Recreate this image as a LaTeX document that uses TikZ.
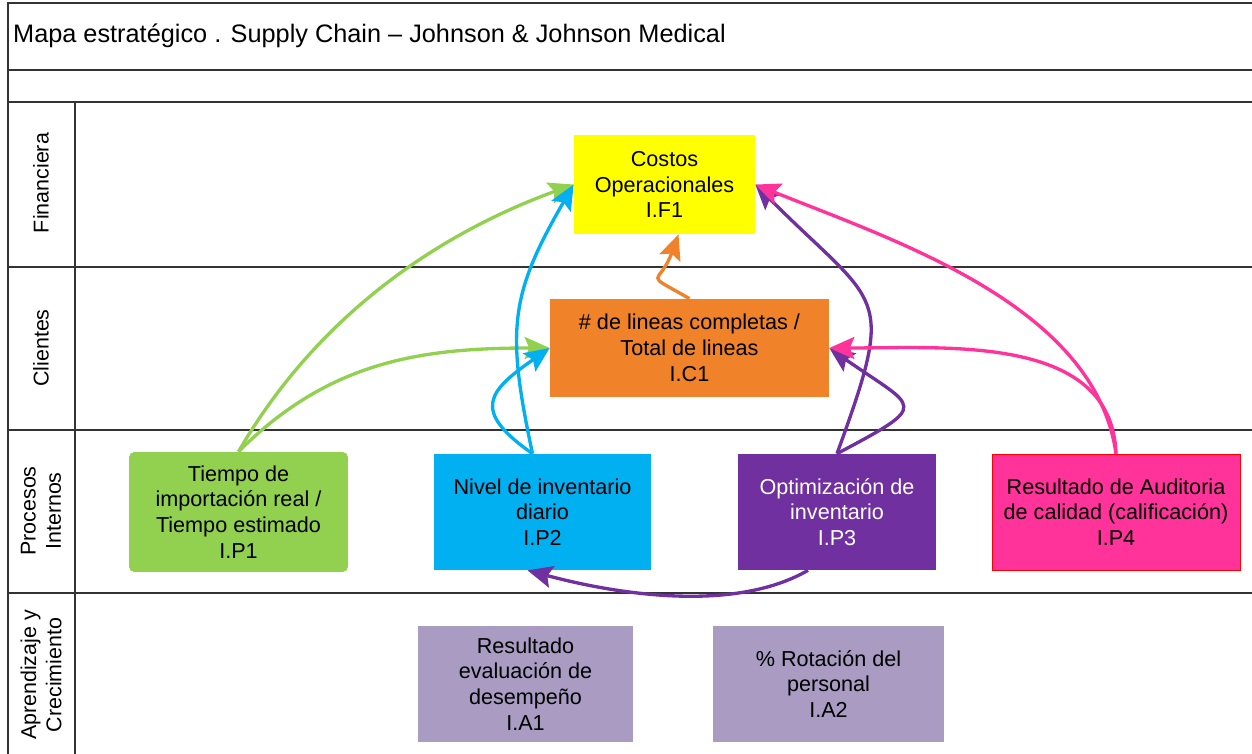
\documentclass[tikz,border=0pt]{standalone}
\usepackage{fontspec}
\setmainfont{Liberation Sans}
\usepackage{xcolor}
\usetikzlibrary{positioning,arrows.meta,calc}

\definecolor{amarillo}{HTML}{FFFF00}
\definecolor{naranja}{HTML}{F0822A}
\definecolor{verde}{HTML}{92D050}
\definecolor{celeste}{HTML}{00B0F0}
\definecolor{morado}{HTML}{7030A0}
\definecolor{rosa}{HTML}{FF3399}
\definecolor{lila}{HTML}{A99BC1}

\begin{document}
\begin{tikzpicture}[
    x=0.02cm, y=-0.02cm,
    box/.style={align=center, inner sep=2pt, font=\fontsize{12.3}{14.7}\selectfont, minimum height=2.32cm},
    fin/.style={box, fill=amarillo, minimum width=3.62cm, minimum height=1.98cm},
    cli/.style={box, fill=naranja, minimum width=5.58cm, minimum height=1.96cm},
    prc/.style={box, minimum width=4.34cm},
    apr/.style={box, fill=lila},
    lbl/.style={rotate=90, align=center, font=\fontsize{12.2}{14.4}\selectfont},
    grid/.style={draw=black!80, line width=0.8pt},
    flecha/.style={line width=1.9pt, -{Stealth[length=5mm,width=4.4mm,inset=0.9mm]}}]
    \useasboundingbox (0,0) rectangle (1252,754);
    % Frame and rows
    \draw[grid] (8,754) -- (8,3) -- (1252,3);
    \foreach \y in {70,102,267,430,593}
      \draw[grid] (8,\y) -- (1252,\y);
    \draw[grid] (75,102) -- (75,754);
    \node[anchor=west, font=\fontsize{14.4}{17}\selectfont] (titulo) at (7,36) {Mapa estratégico . Supply Chain – Johnson \& Johnson Medical};
    % Row labels
    \node[lbl] (finl) at (41,183) {Financiera};
    \node[lbl] (clil) at (41,348) {Clientes};
    \node[lbl] (procl) at (41,511) {Procesos\\Internos};
    \node[lbl] (aprl) at (41,675) {Aprendizaje y\\Crecimiento};
    % Financial and client objectives
    \node[fin] (costos) at (664.5,184.5) {Costos\\Operacionales\\I.F1};
    \node[cli] (lineas) at (689.5,348) {\# de lineas completas /\\Total de lineas\\I.C1};
    % Internal processes
    \node[prc, fill=verde, rounded corners=3pt, minimum width=4.38cm, minimum height=2.4cm] (importacion) at (238.5,512) {Tiempo de\\importación real /\\Tiempo estimado\\I.P1};
    \node[prc, fill=celeste] (inventario) at (542.5,512) {Nivel de inventario\\diario\\I.P2};
    \node[prc, fill=morado, text=white, minimum width=3.96cm] (optimizacion) at (837,512) {Optimización de\\inventario\\I.P3};
    \node[prc, fill=rosa, draw=red, minimum width=4.96cm] (auditoria) at (1116,512) {Resultado de Auditoria\\de calidad (calificación)\\I.P4};
    % Learning and growth
    \node[apr, minimum width=4.3cm] (evaluacion) at (525.5,684) {Resultado\\evaluación de\\desempeño\\I.A1};
    \node[apr, minimum width=4.62cm] (rotacion) at (828.5,684) {\% Rotación del\\personal\\I.A2};
    % edges
    \draw[flecha, verde] (importacion.north) to[out=60,in=200,looseness=0.9] (costos.west);
    \draw[flecha, verde] (importacion.north) to[out=45,in=180] (lineas.west);
    \draw[flecha, celeste] ($(inventario.north)+(-10,0)$) to[out=102,in=240,looseness=1.2] (costos.west);
    \draw[flecha, celeste] ($(inventario.north)+(-10,0)$) to[out=145,in=215,looseness=1.8] (lineas.west);
    \draw[flecha, naranja] (lineas.north) to[out=150,in=250,looseness=2.2] ($(costos.south)+(14,0)$);
    \draw[flecha, morado] (optimizacion.north) to[out=70,in=-45,looseness=1.6] (costos.east);
    \draw[flecha, morado] (optimizacion.north) to[out=28,in=-35,looseness=2.6] (lineas.east);
    \draw[flecha, rosa] (auditoria.north) to[out=98,in=-22,looseness=0.85] (costos.east);
    \draw[flecha, rosa] (auditoria.north) to[out=92,in=0] (lineas.east);
    \draw[flecha, morado] ($(optimizacion.south)+(-29,0)$) to[out=-150,in=-15,looseness=0.8] ($(inventario.south)+(-15,0)$);
\end{tikzpicture}
\end{document}
